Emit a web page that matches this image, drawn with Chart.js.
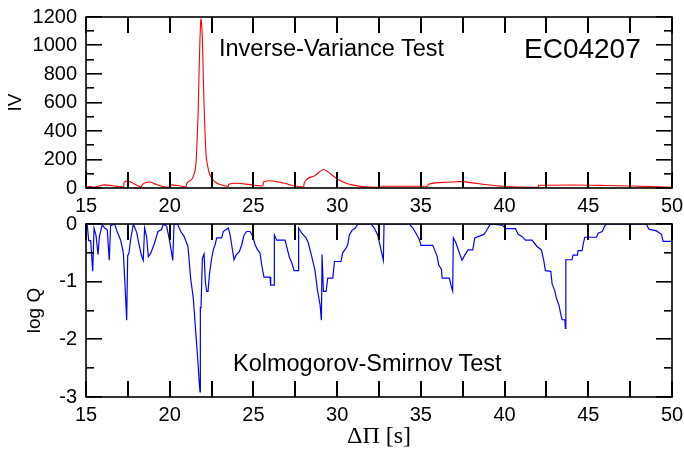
<!DOCTYPE html>
<html>
<head>
<meta charset="utf-8">
<script src="https://cdn.jsdelivr.net/npm/chart.js@4.4.1/dist/chart.umd.min.js"></script>
<style>
  html, body { margin: 0; padding: 0; background: #fff; }
  #wrap { position: relative; width: 684px; height: 454px; overflow: hidden; font-family: "Liberation Sans", Arial, sans-serif; }
  canvas { position: absolute; left: 0; top: 0; }
  .lbl { position: absolute; white-space: nowrap; line-height: 1; color: #000; }
</style>
</head>
<body>
<div id="wrap">
  <canvas id="ivChart" width="684" height="454"></canvas>
  <canvas id="ksChart" width="684" height="454"></canvas>
  <div class="lbl" style="left:219px;top:37px;font-size:23.5px">Inverse-Variance Test</div>
  <div class="lbl" style="left:524px;top:35px;font-size:28px">EC04207</div>
  <div class="lbl" style="left:233px;top:352px;font-size:23.5px">Kolmogorov-Smirnov Test</div>
</div>
<script>
// period spacing tick labels, shared by both panels
const periodTicks = [15, 20, 25, 30, 35, 40, 45, 50];
const ivTicks = [0, 200, 400, 600, 800, 1000, 1200];
const logQTicks = [0, -1, -2, -3];

// inverse-variance test (top panel)
const ivPeriod = [15.0, 15.2, 15.45, 16.1, 16.6, 17.25, 17.27, 17.5, 17.9, 18.3,
  18.35, 18.8, 19.2, 19.6, 19.98, 20.05, 20.5, 20.97, 21.0,
  21.3, 21.45, 21.55, 21.6, 21.65, 21.7, 21.76, 21.81, 21.85, 21.87, 21.9, 21.95, 22.0,
  22.05, 22.1, 22.17, 22.25, 22.35, 22.45, 22.6, 22.8, 23.0, 23.3, 23.5,
  23.52, 24.0, 24.8, 25.57, 25.6, 26.0, 26.8, 27.5, 28.0, 28.03, 28.6, 29.2, 29.6,
  30.0, 30.5, 31.0, 31.5, 32.6, 32.65, 35.4, 35.45, 36.5, 37.3, 38.5, 39.9,
  42.0, 42.03, 44.0, 46.0, 47.5, 50.0];
const ivValue = [3, 12, 5, 22, 16, 6, 40, 48, 28, 6,
  22, 42, 25, 10, 5, 22, 17, 7, 26,
  58, 95, 150, 230, 380, 540, 850, 1053, 1170, 1190, 1160, 1053, 820,
  585, 420, 234, 165, 110, 80, 55, 35, 24, 15, 11,
  26, 33, 24, 14, 42, 51, 35, 14, 7, 33, 82, 130, 100,
  65, 35, 20, 10, 5, 12, 12, 26, 40, 45, 30, 12,
  5, 19, 21, 18, 14, 5];

// Kolmogorov-Smirnov test (bottom panel)
const ksPeriod = [
  15.00, 15.08, 15.16, 15.28, 15.40, 15.48, 15.60, 15.72, 15.80, 15.97,
  16.11, 16.27, 16.39, 16.47, 16.71, 16.87, 17.07, 17.23, 17.31, 17.43,
  17.49, 17.57, 17.67, 17.83, 18.03, 18.17, 18.30, 18.42, 18.50, 18.62,
  18.72, 18.86, 19.06, 19.30, 19.50, 19.62, 19.82, 19.98, 20.10, 20.18,
  20.26, 20.46, 20.66, 20.85, 21.09, 21.25, 21.41, 21.53, 21.65, 21.77,
  21.81, 21.83, 21.87, 21.95, 22.05, 22.13, 22.21, 22.29, 22.37, 22.49,
  22.61, 22.71, 22.81, 23.10, 23.20, 23.50, 23.60, 23.70, 23.84, 23.96,
  24.16, 24.30, 24.44, 24.60, 24.80, 24.96, 25.10, 25.23, 25.39, 25.50,
  25.63, 25.99, 26.03, 26.23, 26.25, 26.39, 26.89, 27.03, 27.15, 27.29,
  27.43, 27.68, 27.70, 27.89, 28.14, 28.28, 28.48, 28.68, 28.82, 28.98,
  29.06, 29.10, 29.18, 29.34, 29.44, 29.74, 29.84, 30.23, 30.33, 30.53,
  30.63, 30.73, 30.89, 31.09, 31.23, 32.02, 32.22, 32.42, 32.62, 32.76,
  32.80, 34.31, 34.52, 34.71, 34.91, 35.01, 35.71, 35.81, 35.97, 36.07,
  36.23, 36.27, 36.70, 36.80, 36.90, 36.94, 37.10, 37.26, 37.46, 37.62,
  37.82, 38.10, 38.22, 38.76, 38.89, 39.15, 39.85, 40.09, 40.65, 40.81,
  41.05, 41.25, 41.64, 41.94, 42.20, 42.34, 42.44, 42.76, 42.84, 43.00,
  43.09, 43.26, 43.36, 43.44, 43.60, 43.63, 43.66, 44.03, 44.09, 44.35,
  44.39, 44.63, 44.71, 44.79, 45.49, 45.59, 45.83, 45.99, 46.09, 48.47,
  48.62, 49.07, 49.37, 49.47, 50.00];
const ksLogQ = [
  -0.01, -0.03, -0.29, -0.29, -0.82, -0.07, -0.20, -0.53, -0.22, -0.01,
  -0.07, -0.10, -0.63, -0.03, 0, -0.14, -0.28, -0.50, -0.94, -1.67,
  -0.55, -0.50, -0.26, 0, -0.15, -0.36, -0.53, -0.63, -0.07, -0.22,
  -0.57, -0.51, -0.36, -0.13, -0.10, 0, -0.04, -0.27, -0.48, -0.63,
  0, 0, -0.13, -0.21, -0.39, -0.94, -1.29, -1.78, -2.25, -2.77,
  -2.91, -1.45, -1.45, -0.60, -0.52, -1.00, -1.17, -1.17, -0.88, -0.62,
  -0.44, -0.36, -0.24, -0.24, -0.13, -0.07, -0.18, -0.36, -0.62, -0.54,
  -0.48, -0.36, -0.19, -0.13, -0.13, -0.21, -0.36, -0.44, -0.50, -0.72,
  -0.92, -0.92, -1.06, -1.06, -0.19, -0.28, -0.28, -0.44, -0.58, -0.67,
  -0.81, -0.81, -0.07, -0.16, -0.24, -0.33, -0.56, -0.81, -1.14, -1.40,
  -1.67, -0.53, -1.17, -1.17, -0.94, -0.94, -0.65, -0.65, -0.50, -0.42,
  -0.36, -0.19, -0.11, -0.07, 0, 0, -0.07, -0.19, -0.45, -0.63,
  0, 0, -0.07, -0.16, -0.27, -0.37, -0.37, -0.44, -0.56, -0.71,
  -0.79, -0.94, -0.94, -1.06, -1.16, -0.24, -0.33, -0.47, -0.63, -0.54,
  -0.45, -0.45, -0.24, -0.18, -0.13, 0, -0.02, -0.08, -0.08, -0.18,
  -0.22, -0.28, -0.28, -0.39, -0.45, -0.63, -0.81, -0.82, -1.04, -1.16,
  -1.28, -1.42, -1.57, -1.66, -1.66, -1.81, -0.62, -0.62, -0.54, -0.54,
  -0.46, -0.46, -0.33, -0.23, -0.23, -0.16, -0.13, -0.03, 0, 0,
  -0.09, -0.12, -0.18, -0.30, -0.30];

Chart.defaults.font.family = '"Liberation Sans", Arial, sans-serif';
Chart.defaults.color = '#000';

// box frame with inward ticks on all four sides; minor ticks halfway between labels
function frameTicks(xVals, yVals) {
  const mids = vals => vals.slice(1).map((v, i) => (v + vals[i]) / 2);
  const xAll = [...xVals, ...mids(xVals)];
  const yMinor = mids(yVals);
  return {
    id: 'frameTicks',
    afterDraw(chart) {
      const ctx = chart.ctx, a = chart.chartArea;
      const sx = chart.scales.x, sy = chart.scales.y;
      ctx.save();
      ctx.fillStyle = '#000';
      for (let i = 0; i < xAll.length; i++) {
        const px = Math.round(sx.getPixelForValue(xAll[i]));
        ctx.fillRect(px - 1, a.top, 2, 16);
        ctx.fillRect(px - 1, a.bottom - 16, 2, 16);
      }
      for (let i = 0; i < yVals.length + yMinor.length; i++) {
        const major = i < yVals.length;
        const v = major ? yVals[i] : yMinor[i - yVals.length];
        const len = major ? 16 : 8;
        const py = Math.round(sy.getPixelForValue(v));
        ctx.fillRect(a.left, py - 1, len, 1.6);
        ctx.fillRect(a.right - len, py - 1, len, 1.6);
      }
      ctx.strokeStyle = '#000';
      ctx.lineWidth = 1.6;
      ctx.strokeRect(a.left, a.top, a.right - a.left, a.bottom - a.top);
      ctx.restore();
    }
  };
}

function xScale(axisHeight, title) {
  return {
    type: 'linear', min: 15, max: 50,
    afterBuildTicks: s => { s.ticks = periodTicks.map(v => ({ value: v })); },
    afterFit: s => { s.height = axisHeight; s.paddingLeft = 0; s.paddingRight = 0; },
    ticks: { autoSkip: false, maxRotation: 0, padding: 6, font: { size: 20 }, callback: v => String(v) },
    grid: { display: false, drawTicks: false },
    border: { display: false },
    title: title
  };
}

function yScale(min, max, tickVals, title) {
  return {
    type: 'linear', min: min, max: max,
    afterBuildTicks: s => { s.ticks = tickVals.map(v => ({ value: v })); },
    afterFit: s => { s.width = 86; s.paddingTop = 0; s.paddingBottom = 0; },
    ticks: { padding: 9, font: { size: 20 }, callback: v => String(v) },
    grid: { display: false, drawTicks: false },
    border: { display: false },
    title: title
  };
}

function panel(id, xs, ys, color, width, smooth, padTop, xAxisHeight, xTitle, y, yTicks) {
  return new Chart(document.getElementById(id), {
    type: 'line',
    data: {
      datasets: [{
        data: xs.map((x, i) => ({ x: x, y: ys[i] })),
        borderColor: color, borderWidth: width,
        pointRadius: 0, fill: false,
        tension: smooth ? 0.4 : 0,
        cubicInterpolationMode: smooth ? 'monotone' : 'default'
      }]
    },
    options: {
      responsive: false, animation: false,
      layout: { padding: { left: 0, top: padTop, right: 12, bottom: 0 } },
      plugins: { legend: { display: false }, tooltip: { enabled: false } },
      scales: { x: xScale(xAxisHeight, xTitle), y: y }
    },
    plugins: [frameTicks(periodTicks, yTicks)]
  });
}

panel('ivChart', ivPeriod, ivValue, '#ff0000', 1.1, true, 17, 266, { display: false },
  yScale(0, 1200, ivTicks, { display: true, text: 'IV', font: { size: 19 }, padding: { top: 4, bottom: 0 } }),
  ivTicks);

panel('ksChart', ksPeriod, ksLogQ, '#0000ff', 1.2, false, 224, 57,
  { display: true, text: 'ΔΠ [s]', font: { family: '"Liberation Serif", "Times New Roman", serif', size: 24 }, padding: { top: 0, bottom: 3 } },
  yScale(-3, 0, logQTicks, { display: true, text: 'log Q', font: { size: 19 }, padding: { top: 23, bottom: 0 } }),
  logQTicks);
</script>
</body>
</html>
